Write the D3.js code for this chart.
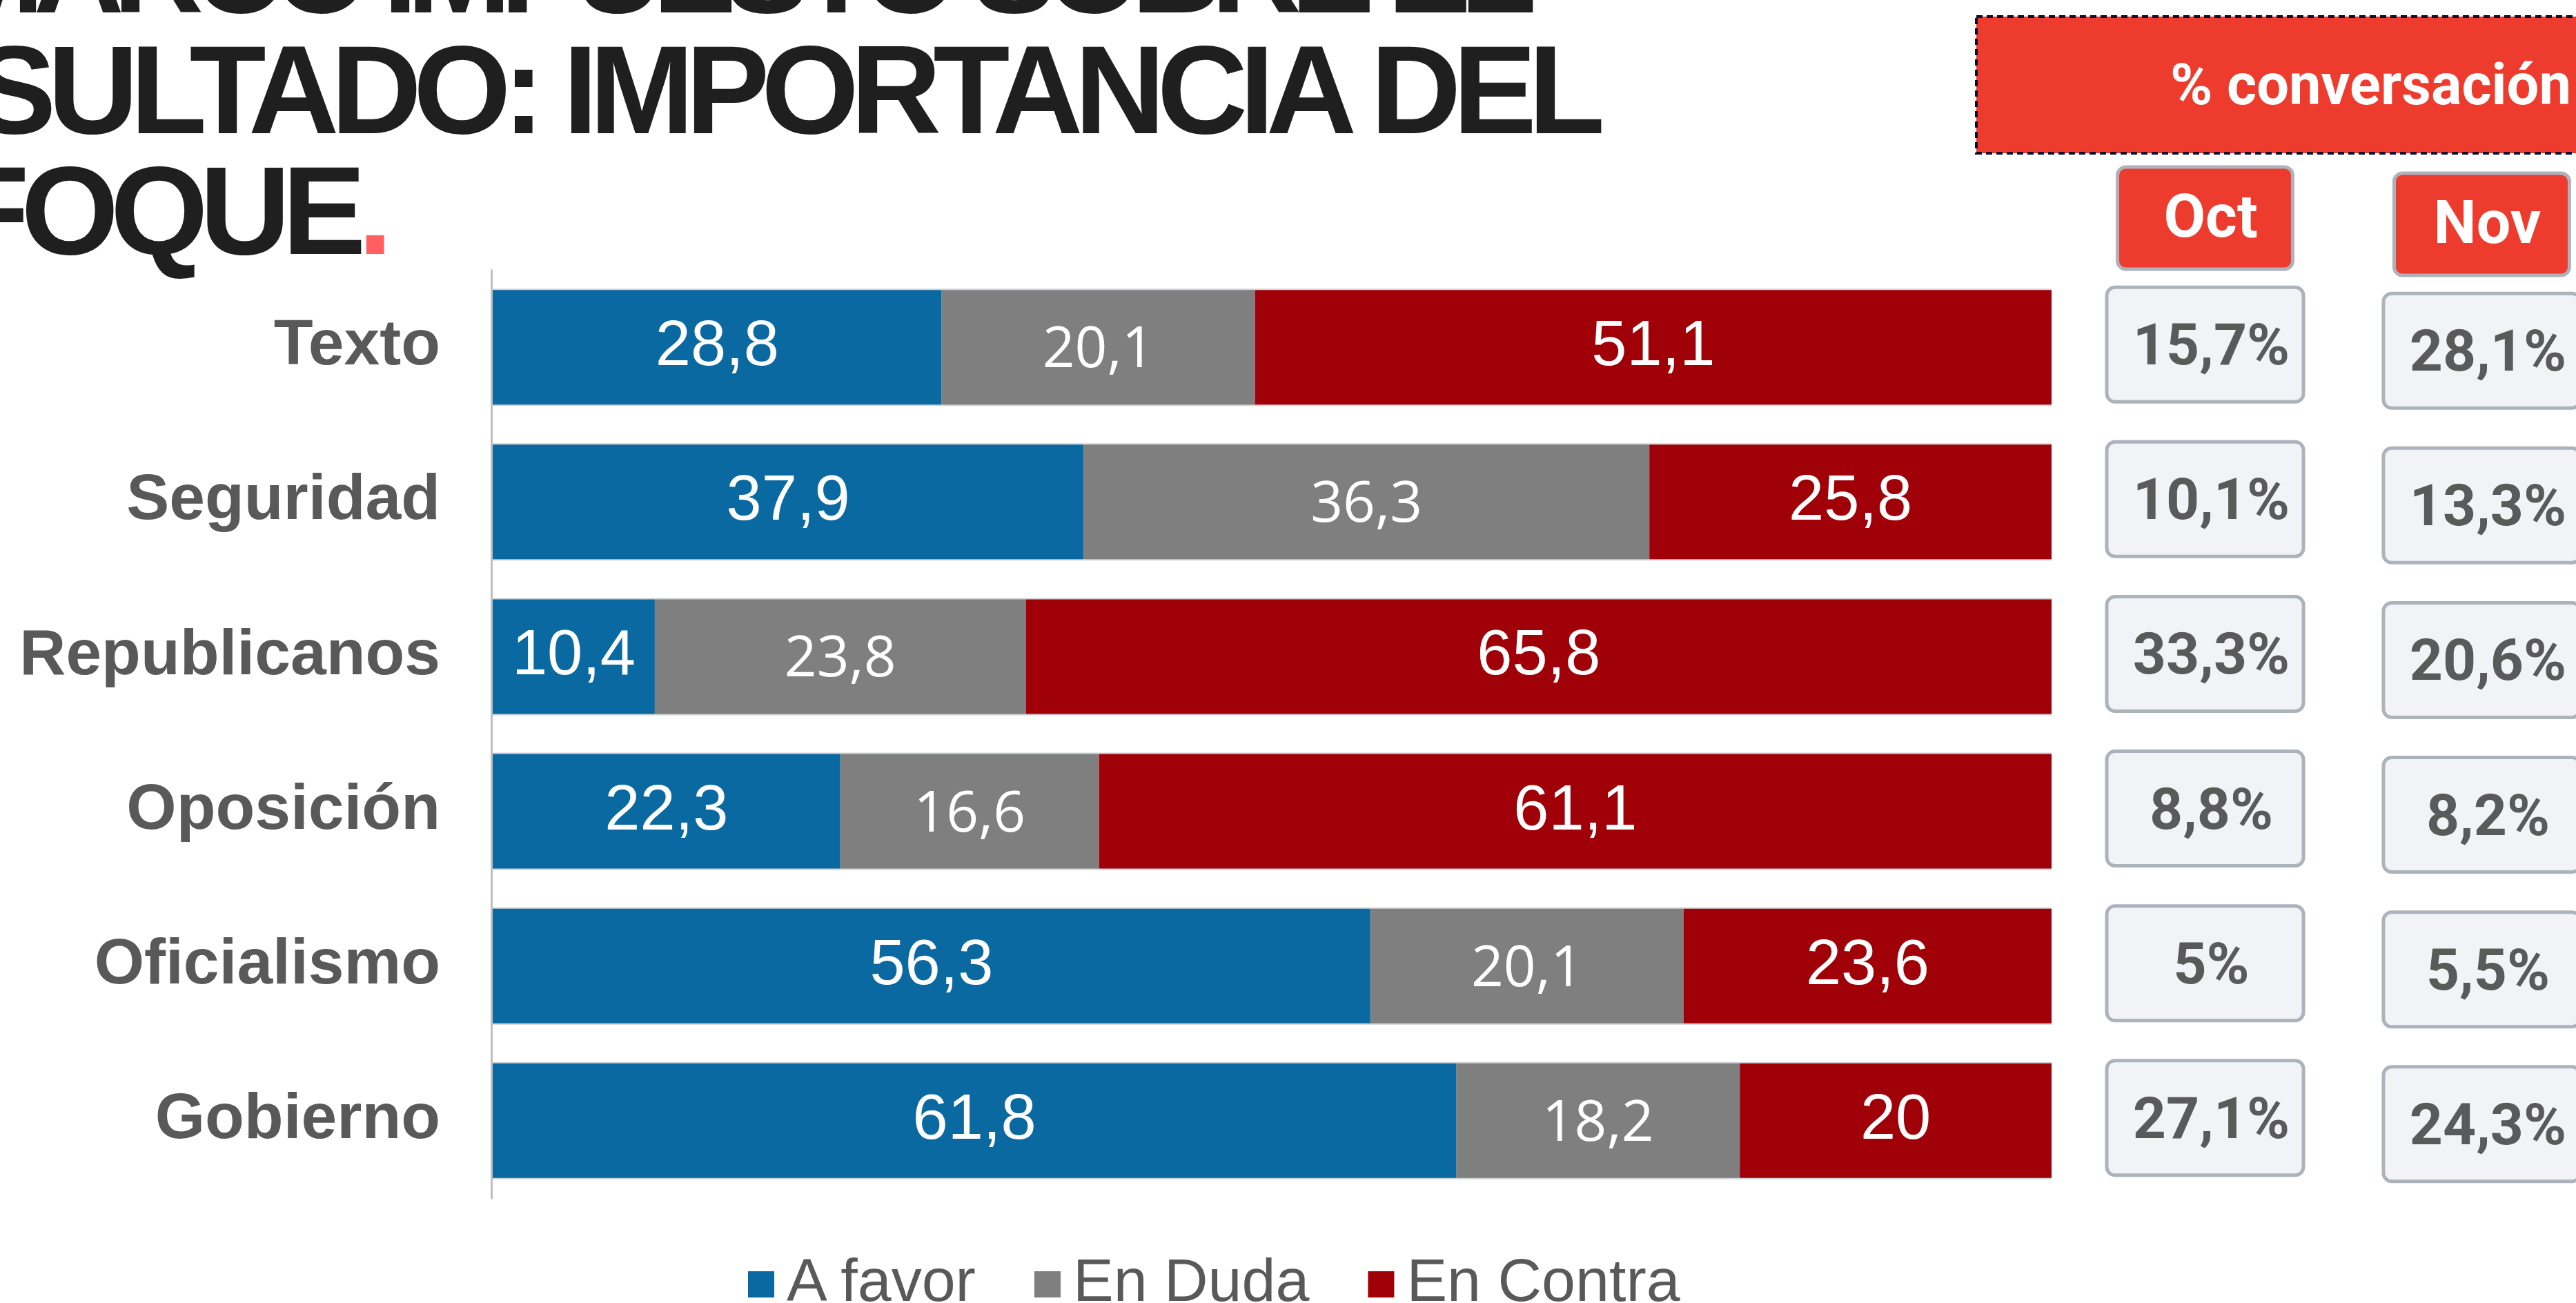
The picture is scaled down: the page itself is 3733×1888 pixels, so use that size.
<!DOCTYPE html>
<html>
<head>
<meta charset="utf-8">
<script src="https://cdn.jsdelivr.net/npm/d3@7"></script>
<style>
  html, body { margin: 0; padding: 0; background: #fff; }
  svg { display: block; }
</style>
</head>
<body>
<script>
// data
const categories = ['Texto', 'Seguridad', 'Republicanos', 'Oposición', 'Oficialismo', 'Gobierno'];
const seriesNames = ['A favor', 'En Duda', 'En Contra'];
const aFavor   = [28.8, 37.9, 10.4, 22.3, 56.3, 61.8];
const enDuda   = [20.1, 36.3, 23.8, 16.6, 20.1, 18.2];
const enContra = [51.1, 25.8, 65.8, 61.1, 23.6, 20];
const months   = ['Oct', 'Nov'];
const convOct  = [15.7, 10.1, 33.3, 8.8, 5, 27.1];
const convNov  = [28.1, 13.3, 20.6, 8.2, 5.5, 24.3];
const titleLines = ['MARCO IMPUESTO SOBRE EL', 'RESULTADO: IMPORTANCIA DEL', 'ENFOQUE'];
const panelTitle = '% conversación';

//colors
const COLORS = {
	series: ['#0b69a1', '#7f7f7f', '#a00008'],
	text: '#595959',
	title: '#1f1f1f',
	dot: '#ff5f5f',
	panelRed: '#ed3b2e',
	boxFill: '#f2f3f7',
	boxLine: '#adb3bc',
	axis: '#bfbfbf'
};

//canvas
const W = 3733, H = 1888;
const AXIS_X = 712;

const locale = d3.formatLocale({decimal: ',', thousands: '.', grouping: [3], currency: ['', '']});
const fmt = locale.format('~f');

const svg = d3.select('body').append('svg')
	.attr('width', W)
	.attr('height', H)
	.attr('viewBox', `0 0 ${W} ${H}`);

// ---- title (cut off on the left / top like the slide)
const title = svg.append('g')
	.attr('font-family', '"Liberation Sans", Arial, sans-serif')
	.attr('font-weight', 'bold')
	.attr('font-size', 182)
	.attr('fill', COLORS.title)
	.attr('text-anchor', 'end');

const titleEnds = [2211, 2314, 557];
const titleBase = [18, 193, 368];
const titleSpacing = [-16, -12, -12];
titleLines.forEach((t, i) => {
	const txt = title.append('text')
		.attr('x', titleEnds[i])
		.attr('y', titleBase[i])
		.attr('letter-spacing', titleSpacing[i]);
	txt.append('tspan').text(t);
	if (i === titleLines.length - 1) {
		txt.append('tspan').attr('fill', COLORS.dot).text('.');
	}
});

// ---- scales
const y = d3.scaleBand()
	.domain(categories)
	.range([390, 1737])
	.paddingInner(0.25)
	.paddingOuter(0.13);

const x = d3.scaleLinear()
	.domain([0, 100])
	.range([AXIS_X + 2, 2973]);

const rows = categories.map((c, i) => ({
	cat: c,
	'A favor': aFavor[i],
	'En Duda': enDuda[i],
	'En Contra': enContra[i]
}));

const stack = d3.stack().keys(seriesNames)(rows);

const color = d3.scaleOrdinal()
	.domain(seriesNames)
	.range(COLORS.series);

// ---- bars
const gBars = svg.append('g').attr('class', 'bars');

gBars.selectAll('g.series')
	.data(stack)
	.join('g')
	.attr('class', 'series')
	.attr('fill', d => color(d.key))
	.selectAll('rect')
	.data(d => d)
	.join('rect')
	.attr('x', d => x(d[0]))
	.attr('width', d => x(d[1]) - x(d[0]))
	.attr('y', d => y(d.data.cat))
	.attr('height', y.bandwidth());

// faint edges on top / bottom of each bar
gBars.selectAll('line.edge')
	.data(categories.flatMap(c => [y(c), y(c) + y.bandwidth()]))
	.join('line')
	.attr('class', 'edge')
	.attr('x1', x(0))
	.attr('x2', x(100))
	.attr('y1', d => d)
	.attr('y2', d => d)
	.attr('stroke', '#cfd2d6')
	.attr('stroke-width', 2);

// value labels
const gLabels = svg.append('g').attr('class', 'labels').attr('text-anchor', 'middle').attr('fill', '#fff');

stack.forEach(s => {
	const isGray = s.key === 'En Duda';
	gLabels.append('g')
		.attr('font-family', isGray ? '"Open Sans", sans-serif' : '"Liberation Sans", Arial, sans-serif')
		.attr('font-size', isGray ? 82 : 92)
		.selectAll('text')
		.data(s)
		.join('text')
		.attr('x', d => (x(d[0]) + x(d[1])) / 2)
		.attr('y', d => y(d.data.cat) + y.bandwidth() / 2 + (isGray ? 29 : 26))
		.text(d => fmt(+(d[1] - d[0]).toFixed(1)));
});

// ---- axis with category names
const yAxis = d3.axisLeft(y)
	.tickSize(0)
	.tickSizeOuter(0)
	.tickPadding(74);

svg.append('g')
	.attr('class', 'axis')
	.attr('transform', `translate(${AXIS_X},0)`)
	.call(yAxis)
	.call(g => g.select('.domain').attr('stroke', COLORS.axis).attr('stroke-width', 3))
	.call(g => g.selectAll('.tick text')
		.attr('font-family', '"Liberation Sans", Arial, sans-serif')
		.attr('font-weight', 'bold')
		.attr('font-size', 93)
		.attr('fill', COLORS.text)
		.attr('dy', '0.27em'));

// ---- right panel: % conversación
const panel = svg.append('g')
	.attr('class', 'panel')
	.attr('font-family', 'Roboto, sans-serif')
	.attr('font-weight', 'bold');

panel.append('rect')
	.attr('x', 2864)
	.attr('y', 24)
	.attr('width', 1000)
	.attr('height', 198)
	.attr('fill', COLORS.panelRed)
	.attr('stroke', '#0d0f2e')
	.attr('stroke-width', 4)
	.attr('stroke-dasharray', '9 6');

panel.append('text')
	.attr('x', 3145)
	.attr('y', 151)
	.attr('font-size', 83)
	.attr('fill', '#fff')
	.text(panelTitle);

const col = d3.scaleBand()
	.domain(months)
	.range([3053, 3739])
	.paddingInner(0.289)
	.paddingOuter(0);

const colShift = {Oct: -4, Nov: 5};
const headW = 254, headH = 148;

const heads = panel.selectAll('g.head')
	.data(months)
	.join('g')
	.attr('class', 'head')
	.attr('transform', d => `translate(${col(d) + col.bandwidth() / 2},${320 + colShift[d]})`);

heads.append('rect')
	.attr('x', -headW / 2)
	.attr('y', -headH / 2)
	.attr('width', headW)
	.attr('height', headH)
	.attr('rx', 12)
	.attr('fill', COLORS.panelRed)
	.attr('stroke', COLORS.boxLine)
	.attr('stroke-width', 5);

heads.append('text')
	.attr('x', 8)
	.attr('y', 27)
	.attr('text-anchor', 'middle')
	.attr('font-size', 88)
	.attr('fill', '#fff')
	.text(d => d);

const cells = months.flatMap(m => categories.map((c, i) => ({
	month: m,
	cat: c,
	val: m === 'Oct' ? convOct[i] : convNov[i]
})));

const boxH = 166;

const cellG = panel.selectAll('g.cell')
	.data(cells)
	.join('g')
	.attr('class', 'cell')
	.attr('transform', d => `translate(${col(d.month) + col.bandwidth() / 2},${y(d.cat) + y.bandwidth() / 2 + colShift[d.month]})`);

cellG.append('rect')
	.attr('x', -col.bandwidth() / 2)
	.attr('y', -boxH / 2)
	.attr('width', col.bandwidth())
	.attr('height', boxH)
	.attr('rx', 12)
	.attr('fill', COLORS.boxFill)
	.attr('stroke', COLORS.boxLine)
	.attr('stroke-width', 5);

cellG.append('text')
	.attr('x', 9)
	.attr('y', 29)
	.attr('text-anchor', 'middle')
	.attr('font-size', 84)
	.attr('fill', '#5a5a5a')
	.text(d => fmt(d.val) + '%');

// ---- legend
const legend = svg.append('g')
	.attr('class', 'legend')
	.attr('font-family', '"Liberation Sans", Arial, sans-serif')
	.attr('font-size', 88)
	.attr('fill', COLORS.text);

let lx = 1084;
seriesNames.forEach(name => {
	legend.append('rect')
		.attr('x', lx)
		.attr('y', 1842)
		.attr('width', 38)
		.attr('height', 38)
		.attr('fill', color(name));
	const t = legend.append('text')
		.attr('x', lx + 56)
		.attr('y', 1885)
		.text(name);
	lx += 56 + t.node().getComputedTextLength() + 85;
});
</script>
</body>
</html>
